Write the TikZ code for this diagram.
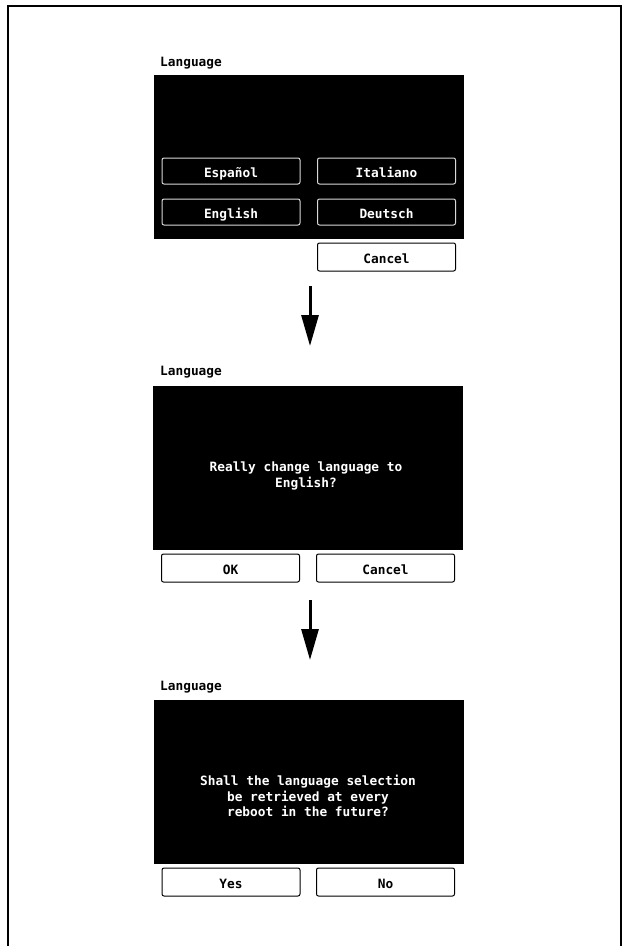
\documentclass[tikz,border=0pt]{standalone}
\usepackage{fontspec}
\setmonofont{DejaVu Sans Mono}
\usetikzlibrary{arrows.meta}

\tikzset{
  screenfont/.style={font=\fontsize{12.8bp}{15.5bp}\selectfont\ttfamily\bfseries},
  screen/.style={fill=black, inner sep=0pt, outer sep=0pt,
    minimum width=310bp, minimum height=164bp},
  prompt/.style={align=center, text=white, inner sep=0pt, screenfont},
  darkbtn/.style={draw=black!15!white, line width=1bp, rounded corners=2bp, fill=black,
    text=white, minimum width=138bp, minimum height=26bp, inner sep=0pt,
    text height=12bp, text depth=0bp, screenfont},
  lightbtn/.style={draw=black, line width=1bp, rounded corners=2bp, fill=white,
    text=black, minimum width=138bp, minimum height=28bp, inner sep=0pt,
    text height=12bp, text depth=0bp, screenfont},
  title/.style={anchor=west, inner sep=0pt, screenfont},
  flow/.style={-{Triangle[width=17bp,length=31bp]}, line width=3bp}
}

\begin{document}
\begin{tikzpicture}[x=1bp, y=-1bp]
\useasboundingbox (0,0) rectangle (622,946);

% frame
\draw[line width=2bp] (8,946) -- (8,6) -- (621,6) -- (621,946);

% choose a language
\node[title] (langA) at (160,63) {Language};
\node[screen] (scrA) at (309,157) {};
\node[darkbtn] (es) at (231,171) {Español};
\node[darkbtn] (it) at (386.5,171) {Italiano};
\node[darkbtn] (en) at (231,212) {English};
\node[darkbtn] (de) at (386.5,212) {Deutsch};
\node[lightbtn] (cancelA) at (386.5,257) {Cancel};

\coordinate (arrAs) at (310,286);
\coordinate (arrAe) at (310,346);
\draw[flow] (arrAs) -- (arrAe);

% confirm
\node[title] (langB) at (160,372) {Language};
\node[screen] (scrB) at (308,468) {};
\node[prompt] (askB) at (306,476) {Really change language to\\English?};
\node[lightbtn] (ok) at (230.5,568) {OK};
\node[lightbtn] (cancelB) at (385.5,568) {Cancel};

\coordinate (arrBs) at (310,600);
\coordinate (arrBe) at (310,660);
\draw[flow] (arrBs) -- (arrBe);

% keep selection
\node[title] (langC) at (160,687) {Language};
\node[screen] (scrC) at (308.5,782) {};
\node[prompt] (askC) at (308,796)
  {Shall the language selection\\be retrieved at every\\reboot in the future?};
\node[lightbtn] (yes) at (231,882) {Yes};
\node[lightbtn] (no) at (385.5,882) {No};

\end{tikzpicture}
\end{document}
